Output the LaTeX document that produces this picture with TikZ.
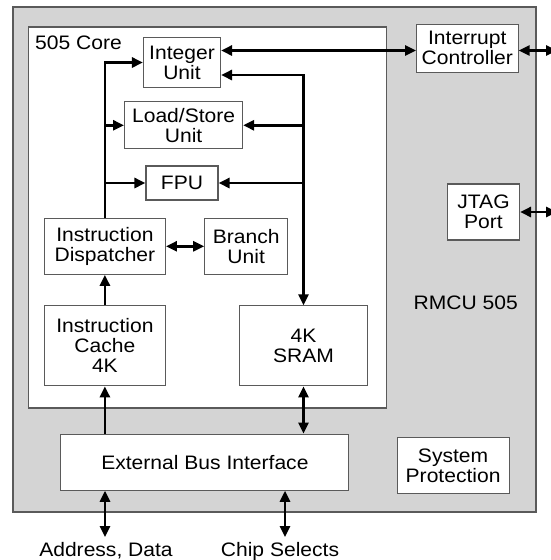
\documentclass[tikz,border=0pt]{standalone}
\usepackage{fontspec}
\setmainfont{Liberation Sans}[FakeStretch=1.08]
\usetikzlibrary{positioning,arrows.meta}
\definecolor{rmcugray}{RGB}{212,212,212}
\definecolor{edgegray}{RGB}{90,90,90}

\begin{document}
\begin{tikzpicture}[
    x=1pt, y=-1pt,
    >={Triangle[length=11pt,width=10pt]},
    box/.style={draw=edgegray, fill=white, line width=1.1pt, inner sep=0pt,
                align=center, font=\fontsize{19.5}{20}\selectfont},
    lbl/.style={inner sep=1pt, font=\fontsize{19.5}{20}\selectfont},
    arr/.style={->, line width=2.6pt},
    dblarr/.style={<->, line width=2.6pt},
  ]
  \useasboundingbox (0,0) rectangle (551,560);

  %% Chip and core outlines
  \node[box, fill=rmcugray, minimum width=523pt, minimum height=505pt] (rmcu) at (274.5,259.5) {};
  \node[box, minimum width=358pt, minimum height=381pt] (core) at (207.7,217.5) {};
  \node[lbl, anchor=west] (corelbl) at (34,43) {505 Core};
  \node[lbl] (rmculbl) at (465.7,303) {RMCU 505};

  %% Core units
  \node[box, minimum width=77pt, minimum height=50pt] (iu) at (182,62.5) {Integer\\Unit};
  \node[box, minimum width=118pt, minimum height=47pt] (lsu) at (183.6,125.3) {Load/Store\\Unit};
  \node[box, minimum width=72pt, minimum height=34pt] (fpu) at (182,183) {FPU};
  \node[box, minimum width=121pt, minimum height=56pt] (disp) at (104.9,246.3) {Instruction\\Dispatcher};
  \node[box, minimum width=83pt, minimum height=56pt] (bu) at (246.2,246.3) {Branch\\Unit};
  \node[box, minimum width=121pt, minimum height=80pt] (cache) at (104.9,345.8) {Instruction\\Cache\\4K};
  \node[box, minimum width=128pt, minimum height=80pt] (sram) at (303.5,345.8) {4K\\SRAM};

  %% Peripherals
  \node[box, minimum width=101.5pt, minimum height=48pt] (intc) at (467.3,48.3) {Interrupt\\Controller};
  \node[box, minimum width=72pt, minimum height=56pt] (jtag) at (483.5,212) {JTAG\\Port};
  \node[box, minimum width=288pt, minimum height=56pt] (ebi) at (204.9,462.2) {External Bus Interface};
  \node[box, minimum width=112pt, minimum height=56pt] (sysprot) at (453.1,465.5) {System\\Protection};

  %% Pins
  \node[lbl, anchor=north] (addr) at (106,541.5) {Address, Data};
  \node[lbl, anchor=north] (chipsel) at (280,541.5) {Chip Selects};
  \coordinate (addrend) at (105,537);
  \coordinate (csend) at (285,537);
  \coordinate (intout) at (557,50.5);
  \coordinate (iutop) at ([yshift=12pt]iu.east);
  \coordinate (iubot) at ([yshift=-12.5pt]iu.east);

  %% Arrows
  \draw[dblarr] (iutop) -- (iutop -| intc.west);
  \draw[dblarr] (iutop -| intc.east) -- (intout);
  \draw[dblarr] (jtag.east) -- (jtag.east -| intout);
  \draw[arr] (disp.north) |- (iu.west);
  \draw[arr] (disp.north |- lsu.west) -- (lsu.west);
  \draw[arr] (disp.north |- fpu.west) -- (fpu.west);
  \draw[dblarr] (iubot) -| (sram.north);
  \draw[arr] (sram.north |- lsu.east) -- (lsu.east);
  \draw[arr] (sram.north |- fpu.east) -- (fpu.east);
  \draw[dblarr] (disp) -- (bu);
  \draw[arr] (cache) -- (disp);
  \draw[arr] (ebi.north -| cache) -- (cache.south);
  \draw[dblarr] (sram.south) -- (sram.south |- ebi.north);
  \draw[dblarr] (ebi.south -| addrend) -- (addrend);
  \draw[dblarr] (ebi.south -| csend) -- (csend);

\end{tikzpicture}
\end{document}
